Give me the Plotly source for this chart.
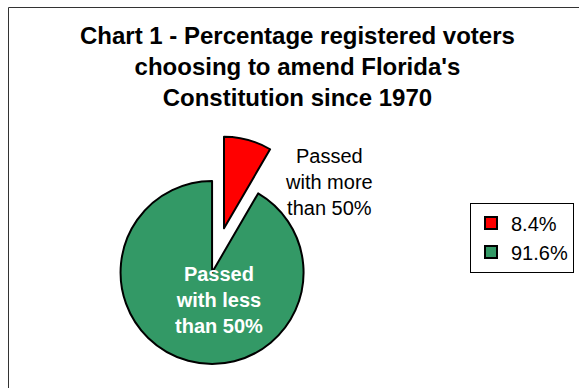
import plotly.graph_objects as go

# ---- data ----
legend_labels = ["8.4%", "91.6%"]
values = [8.4, 91.6]
slice_names = ["Passed<br>with more<br>than 50%", "Passed<br>with less<br>than 50%"]
colors = ["#FF0000", "#339966"]
title_lines = ["Chart 1 - Percentage registered voters",
               "choosing to amend Florida's",
               "Constitution since 1970"]

W, H = 579, 388
FONT = "Arial, Liberation Sans, Helvetica, sans-serif"

fig = go.Figure()
fig.add_trace(go.Pie(
    labels=legend_labels,
    values=values,
    sort=False,
    direction="clockwise",
    rotation=0,
    pull=[0, 0.5],
    marker=dict(colors=colors, line=dict(color="#000000", width=2)),
    textinfo="none",
    hoverinfo="label+value",
    domain=dict(x=[86.75 / W, 361.25 / W], y=[22.45 / H, 296.95 / H]),
    showlegend=True,
))

annotations = [
    dict(text=slice_names[0], x=329 / W, y=1 - 182 / H, xref="paper", yref="paper",
         xanchor="center", yanchor="middle", showarrow=False,
         font=dict(family=FONT, size=20, color="#000000")),
    dict(text="<b>" + slice_names[1] + "</b>", x=219 / W, y=1 - 300 / H, xref="paper", yref="paper",
         xanchor="center", yanchor="middle", showarrow=False,
         font=dict(family=FONT, size=20, color="#FFFFFF")),
    dict(text="<b>" + "<br>".join(title_lines) + "</b>", x=297.5 / W, y=1 - 66.5 / H,
         xref="paper", yref="paper", xanchor="center", yanchor="middle", showarrow=False,
         font=dict(family=FONT, size=24, color="#000000")),
]

fig.update_layout(
    width=W, height=H,
    margin=dict(l=0, r=0, t=0, b=0),
    paper_bgcolor="white",
    plot_bgcolor="white",
    font=dict(family=FONT, color="#000000"),
    legend=dict(x=470 / W, xanchor="left", y=1 - 237.5 / H, yanchor="middle",
                bordercolor="#000000", borderwidth=1, bgcolor="white",
                font=dict(family=FONT, size=20, color="#000000")),
    annotations=annotations,
    shapes=[dict(type="rect", xref="paper", yref="paper",
                 x0=8.5 / W, x1=1.2, y0=-0.2, y1=1 - 7.5 / H,
                 line=dict(color="#333333", width=1), fillcolor="rgba(0,0,0,0)",
                 layer="below")],
)

fig.write_html("out.html")
